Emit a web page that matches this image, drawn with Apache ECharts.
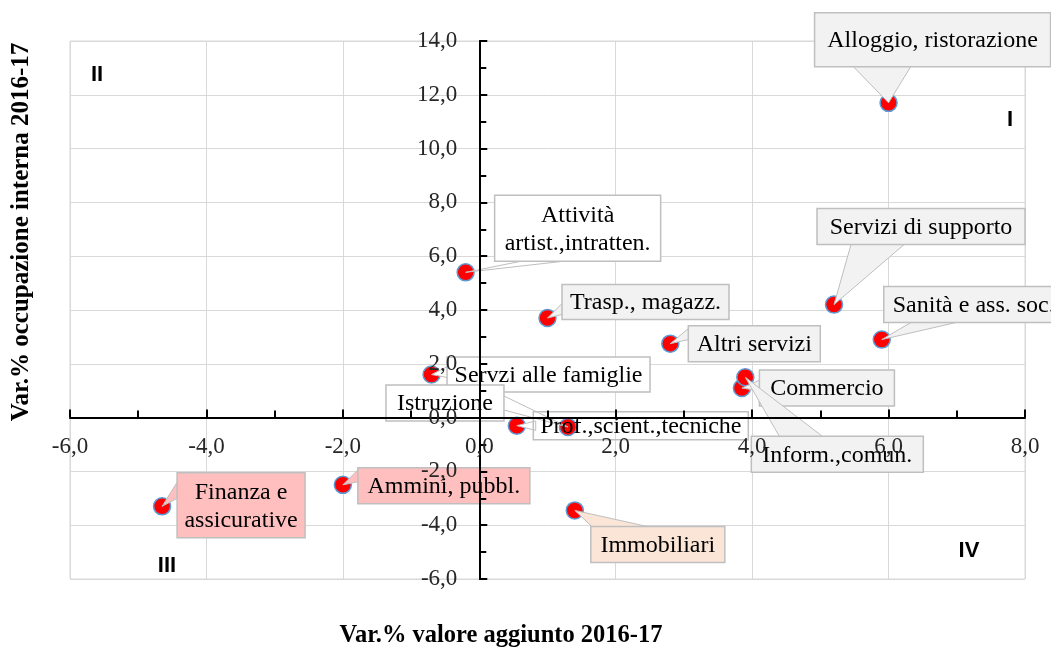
<!DOCTYPE html>
<html>
<head>
<meta charset="utf-8">
<script src="https://cdn.jsdelivr.net/npm/echarts@6/dist/echarts.min.js"></script>
<style>
  html, body { margin: 0; padding: 0; background: #fff; }
  #chart { width: 1051px; height: 648px; }
</style>
</head>
<body>
<div id="chart"></div>
<script>
// settori e variazioni % 2016-17
const sectors = [
  'Alloggio, ristorazione', 'Servizi di supporto', 'Sanità e ass. soc.', 'Trasp., magazz.',
  'Attività\nartist.,intratten.', 'Altri servizi', 'Commercio', 'Inform.,comun.',
  'Servzi alle famiglie', 'Istruzione', 'Prof.,scient.,tecniche',
  'Finanza e\nassicurative', 'Ammini, pubbl.', 'Immobiliari'
];
// asse x: var.% valore aggiunto
const valoreAggiunto = [6.0, 5.2, 5.9, 1.0, -0.2, 2.8, 3.85, 3.9, -0.7, 1.3, 0.55, -4.65, -2.0, 1.4];
// asse y: var.% occupazione interna
const occupazione = [11.7, 4.2, 2.9, 3.7, 5.4, 2.75, 1.1, 1.5, 1.6, -0.35, -0.3, -3.3, -2.5, -3.45];

// posizione dei riquadri delle etichette rispetto al punto (pixel): box [dx, dy, w, h], punta [x1, y1, x2, y2]
const callouts = [
  { box: [44, -63, 236, 54], wedge: [-35, -36, 22, -36], fill: '#f2f2f2' },
  { box: [87, -78, 208, 36], wedge: [17, -60, 70, -60], fill: '#f2f2f2' },
  { box: [92, -35, 180, 36], wedge: [29, -17, 74, -17], fill: '#f2f2f2' },
  { box: [98, -16, 167, 35], wedge: [16, -16, 16, -4], fill: '#f2f2f2' },
  { box: [112, -44, 166, 66], wedge: [55, -11, 97, -11], fill: '#ffffff' },
  { box: [84, 0, 132, 36], wedge: [18, -15, 18, -4], fill: '#f2f2f2' },
  { box: [85, 0, 135, 36], wedge: [18, -8, 18, 3], fill: '#f2f2f2' },
  { box: [92, 77, 172, 36], wedge: [34, 59, 77, 59], fill: '#f2f2f2' },
  { box: [117, 0, 203, 35], wedge: [16, -8, 16, 3], fill: '#ffffff' },
  { box: [-123, -24, 118, 36], wedge: [-64, -31, -64, -17], fill: '#ffffff' },
  { box: [124, 0, 215, 28], wedge: [16, -4, 16, 4], fill: 'none' },
  { box: [79, -1, 128, 65], wedge: [15, -24, 15, -8], fill: '#ffbfbf' },
  { box: [101, 1, 172, 36], wedge: [15, -15, 15, -3], fill: '#ffbfbf' },
  { box: [83, 34, 134, 36], wedge: [17, 16, 72, 16], fill: '#fbe5d6' }
];

const points = valoreAggiunto.map((v, i) => [v, occupazione[i]]);
const fmt = v => v.toFixed(1).replace('.', ',');
const serif = '"Liberation Serif", "Times New Roman", serif';

const GRID = { left: 70, top: 41, width: 955, height: 538 };

// allunga un po' la base della punta dentro il riquadro
function push(tip, b) {
  const dx = b[0] - tip[0], dy = b[1] - tip[1];
  const d = Math.sqrt(dx * dx + dy * dy) || 1;
  return [b[0] + dx / d * 3, b[1] + dy / d * 3];
}

function renderCallout(params, api) {
  const c = callouts[params.dataIndex];
  const p = api.coord([api.value(0), api.value(1)]);
  const b1 = push(p, [p[0] + c.wedge[0], p[1] + c.wedge[1]]);
  const b2 = push(p, [p[0] + c.wedge[2], p[1] + c.wedge[3]]);
  const cx = p[0] + c.box[0], cy = p[1] + c.box[1];
  const w = c.box[2], h = c.box[3];
  return {
    type: 'group',
    children: [
      {
        type: 'polygon',
        shape: { points: [p, b1, b2] },
        style: { fill: c.fill === 'none' ? '#ffffff' : c.fill, stroke: '#bfbfbf', lineWidth: 1 }
      },
      {
        type: 'rect',
        shape: { x: cx - w / 2, y: cy - h / 2, width: w, height: h },
        style: { fill: c.fill, stroke: '#bfbfbf', lineWidth: 1.5 }
      },
      {
        type: 'text',
        style: {
          text: sectors[params.dataIndex], x: cx, y: cy + 1,
          align: 'center', verticalAlign: 'middle',
          fontFamily: serif, fontSize: 24, lineHeight: 28, fill: '#000'
        }
      }
    ]
  };
}

const chart = echarts.init(document.getElementById('chart'));

const quadText = (text, x, y) => ({
  type: 'text', x: x, y: y, z: 20,
  style: { text: text, align: 'center', verticalAlign: 'middle', fontFamily: '"Liberation Sans", Arial, sans-serif', fontWeight: 'bold', fontSize: 22, fill: '#000' }
});

chart.setOption({
  animation: false,
  backgroundColor: '#fff',
  grid: [
    Object.assign({ show: true, borderColor: '#d9d9d9', borderWidth: 1 }, GRID),
    Object.assign({}, GRID)
  ],
  xAxis: [
    {
      gridIndex: 0, type: 'value', min: -6, max: 8, interval: 2,
      axisLine: { show: false }, axisTick: { show: false }, axisLabel: { show: false },
      splitLine: { show: true, lineStyle: { color: '#d9d9d9', width: 1 } }
    },
    {
      gridIndex: 1, type: 'value', min: -6, max: 8, interval: 2, z: 10, position: 'bottom',
      axisLine: { onZero: false, lineStyle: { color: '#000', width: 2 } },
      axisTick: { inside: true, length: 8, lineStyle: { color: '#000', width: 2 } },
      minorTick: { show: true, splitNumber: 2, length: 7, lineStyle: { color: '#000', width: 2 } },
      axisLabel: { margin: 18, formatter: fmt, fontFamily: serif, fontSize: 23, color: '#262626' },
      splitLine: { show: false }
    }
  ],
  yAxis: [
    {
      gridIndex: 0, type: 'value', min: -6, max: 14, interval: 2,
      axisLine: { show: false }, axisTick: { show: false }, axisLabel: { show: false },
      splitLine: { show: true, lineStyle: { color: '#d9d9d9', width: 1 } }
    },
    {
      gridIndex: 1, type: 'value', min: -6, max: 14, interval: 2, z: 10, position: 'left',
      axisLine: { onZero: false, lineStyle: { color: '#000', width: 2 } },
      axisTick: { inside: true, length: 8, lineStyle: { color: '#000', width: 2 } },
      minorTick: { show: true, splitNumber: 2, length: 7, lineStyle: { color: '#000', width: 2 } },
      axisLabel: { margin: 22, formatter: fmt, fontFamily: serif, fontSize: 23, color: '#262626' },
      splitLine: { show: false }
    }
  ],
  series: [
    {
      type: 'scatter', xAxisIndex: 0, yAxisIndex: 0, z: 3,
      data: points, symbolSize: 17,
      itemStyle: { color: '#ff0000', borderColor: '#5b9bd5', borderWidth: 1.5, opacity: 1 }
    },
    {
      type: 'custom', xAxisIndex: 0, yAxisIndex: 0, z: 5, clip: false,
      data: points, renderItem: renderCallout
    }
  ],
  graphic: [
    quadText('II', 97, 75),
    quadText('I', 1010, 120),
    quadText('III', 167, 566),
    quadText('IV', 969, 551),
    {
      type: 'text', x: 501, y: 636, z: 20,
      style: { text: 'Var.% valore aggiunto 2016-17', align: 'center', verticalAlign: 'middle', fontFamily: serif, fontWeight: 'bold', fontSize: 24.5, fill: '#000' }
    },
    {
      type: 'text', x: 22, y: 232, z: 20, rotation: Math.PI / 2,
      style: { text: 'Var.% occupazione interna 2016-17', align: 'center', verticalAlign: 'middle', fontFamily: serif, fontWeight: 'bold', fontSize: 25, fill: '#000' }
    }
  ]
});

// gli assi si incrociano nell'origine: sposto gli assi con offset calcolato dalla scala
const origin = chart.convertToPixel({ gridIndex: 0 }, [0, 0]);
chart.setOption({
  xAxis: [{}, { offset: -(GRID.top + GRID.height - origin[1]) }],
  yAxis: [{}, { offset: -(origin[0] - GRID.left) }]
});
</script>
</body>
</html>
